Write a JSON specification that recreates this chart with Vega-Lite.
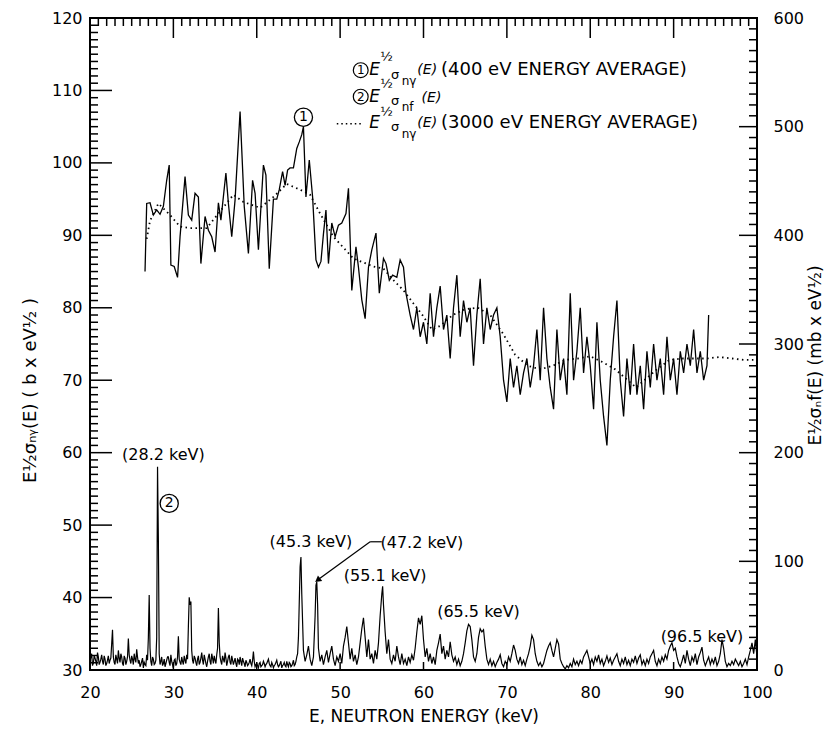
{
"$schema":"https://vega.github.io/schema/vega-lite/v6.json",
"width":667,"height":652,
"autosize":{"type":"none"},
"padding":{"left":90,"top":18,"right":73,"bottom":62},
"background":"white",
"config":{
"font":"DejaVu Sans",
"view":{"stroke":"black","strokeWidth":2},
"axis":{"grid":false,"domain":false,"ticks":false,"labelColor":"black","titleColor":"black","labelFont":"DejaVu Sans","titleFont":"DejaVu Sans","labelFontSize":16,"titleFontSize":17,"titleFontWeight":"normal","labelFlush":false}
},
"datasets":{
"cap":[
{"e":26.6,"v":85.0},{"e":26.8,"v":94.4},{"e":27.2,"v":94.5},{"e":27.6,"v":92.8},{"e":28.0,"v":93.5},{"e":28.4,"v":92.9},{"e":28.8,"v":94.0},{"e":29.2,"v":97.6},{"e":29.5,"v":99.7},{"e":29.7,"v":85.9},{"e":30.1,"v":85.7},{"e":30.5,"v":84.2},{"e":30.8,"v":89.8},{"e":31.4,"v":98.1},{"e":31.8,"v":92.8},{"e":32.2,"v":92.1},{"e":32.6,"v":95.8},{"e":33.0,"v":95.3},{"e":33.3,"v":86.1},{"e":33.8,"v":92.6},{"e":34.2,"v":90.7},{"e":34.6,"v":89.8},{"e":35.0,"v":87.7},{"e":35.4,"v":94.5},{"e":35.7,"v":92.1},{"e":36.3,"v":98.6},{"e":36.6,"v":94.4},{"e":37.0,"v":89.8},{"e":37.4,"v":94.9},{"e":38.0,"v":107.1},{"e":38.5,"v":94.0},{"e":39.0,"v":87.5},{"e":39.5,"v":97.6},{"e":39.8,"v":95.8},{"e":40.2,"v":88.0},{"e":40.8,"v":99.7},{"e":41.1,"v":98.3},{"e":41.5,"v":85.4},{"e":42.0,"v":95.0},{"e":42.4,"v":95.0},{"e":42.7,"v":96.3},{"e":43.1,"v":98.8},{"e":43.4,"v":96.9},{"e":43.7,"v":99.0},{"e":44.0,"v":99.3},{"e":44.4,"v":99.3},{"e":44.8,"v":102.0},{"e":45.1,"v":102.9},{"e":45.4,"v":103.9},{"e":45.6,"v":105.0},{"e":45.9,"v":95.3},{"e":46.3,"v":100.4},{"e":46.7,"v":95.3},{"e":47.1,"v":86.6},{"e":47.4,"v":85.6},{"e":47.7,"v":86.4},{"e":48.0,"v":90.2},{"e":48.3,"v":93.5},{"e":48.6,"v":86.1},{"e":49.0,"v":91.7},{"e":49.4,"v":89.8},{"e":49.8,"v":91.4},{"e":50.2,"v":91.7},{"e":50.7,"v":93.0},{"e":51.0,"v":96.5},{"e":51.4,"v":82.4},{"e":51.9,"v":88.4},{"e":52.2,"v":85.6},{"e":52.6,"v":81.1},{"e":53.0,"v":78.5},{"e":53.4,"v":85.6},{"e":53.8,"v":88.0},{"e":54.3,"v":90.3},{"e":54.7,"v":82.0},{"e":55.2,"v":86.8},{"e":55.5,"v":86.1},{"e":55.9,"v":83.8},{"e":56.3,"v":84.5},{"e":56.8,"v":84.2},{"e":57.2,"v":86.6},{"e":57.6,"v":85.6},{"e":57.9,"v":82.0},{"e":58.4,"v":79.0},
{"e":58.8,"v":77},{"e":59.2,"v":80},{"e":59.6,"v":76},{"e":60.0,"v":78},{"e":60.4,"v":75},{"e":60.8,"v":82},{"e":61.2,"v":76},{"e":61.6,"v":80},{"e":62.0,"v":83},{"e":62.4,"v":77},{"e":62.8,"v":79},{"e":63.2,"v":73},{"e":63.6,"v":80},{"e":64.0,"v":84.5},{"e":64.4,"v":76},{"e":64.8,"v":81},{"e":65.2,"v":78},{"e":65.6,"v":80},{"e":66.0,"v":72},{"e":66.4,"v":79},{"e":66.8,"v":84},{"e":67.2,"v":75},{"e":67.6,"v":80},{"e":68.0,"v":77},{"e":68.4,"v":79},{"e":68.8,"v":80},{"e":69.2,"v":76},{"e":69.6,"v":70},{"e":70.0,"v":67},{"e":70.4,"v":73},{"e":70.8,"v":69},{"e":71.2,"v":72},{"e":71.6,"v":68},{"e":72.0,"v":71},{"e":72.4,"v":73},{"e":72.8,"v":69},{"e":73.2,"v":72},{"e":73.6,"v":77},{"e":74.0,"v":70},{"e":74.4,"v":80},{"e":74.8,"v":73},{"e":75.2,"v":69},{"e":75.6,"v":66},{"e":76.0,"v":77},{"e":76.4,"v":70},{"e":76.8,"v":73},{"e":77.2,"v":68},{"e":77.6,"v":82},{"e":78.0,"v":70},{"e":78.4,"v":74},{"e":78.8,"v":80},{"e":79.2,"v":71},{"e":79.6,"v":76},{"e":80.0,"v":72},{"e":80.4,"v":66},{"e":80.8,"v":78},{"e":81.2,"v":70},{"e":81.6,"v":65},{"e":82.0,"v":61},{"e":82.4,"v":70},{"e":82.8,"v":76},{"e":83.2,"v":81},{"e":83.6,"v":70},{"e":84.0,"v":65},{"e":84.4,"v":73},{"e":84.8,"v":68},{"e":85.2,"v":75},{"e":85.6,"v":68},{"e":86.0,"v":72},{"e":86.4,"v":66},{"e":86.8,"v":74},{"e":87.2,"v":69},{"e":87.6,"v":75},{"e":88.0,"v":70},{"e":88.4,"v":73},{"e":88.8,"v":68},{"e":89.2,"v":76},{"e":89.6,"v":70},{"e":90.0,"v":73},{"e":90.4,"v":68},{"e":90.8,"v":74},{"e":91.2,"v":71},{"e":91.6,"v":75},{"e":92.0,"v":72},{"e":92.4,"v":77},{"e":92.8,"v":71},{"e":93.2,"v":74},{"e":93.6,"v":70},{"e":94.0,"v":72},{"e":94.2,"v":79}
],
"avg":[
{"e":26.8,"v":89.5},{"e":27.2,"v":92.0},{"e":28.2,"v":94.4},{"e":29.6,"v":92.8},{"e":30.8,"v":91.2},{"e":32.0,"v":91.0},{"e":34.0,"v":91.0},{"e":35.6,"v":93.3},{"e":37.2,"v":95.6},{"e":38.4,"v":94.6},{"e":40.4,"v":93.8},{"e":42.0,"v":95.3},{"e":43.6,"v":97.1},{"e":45.2,"v":96.3},{"e":46.4,"v":95.6},{"e":47.6,"v":93.0},{"e":49.2,"v":89.8},{"e":51.6,"v":86.8},{"e":54.0,"v":85.7},{"e":55.2,"v":85.4},{"e":56.4,"v":83.8},{"e":57.6,"v":82.4},{"e":58.8,"v":80.6},{"e":60.0,"v":78.8},{"e":61.0,"v":77.0},{"e":62.0,"v":77.5},{"e":63.5,"v":79.0},{"e":65.0,"v":79.8},{"e":66.5,"v":80.0},{"e":68.0,"v":79.0},{"e":69.5,"v":76.5},{"e":71.0,"v":73.5},{"e":72.5,"v":72.0},{"e":74.0,"v":71.5},{"e":75.5,"v":72.0},{"e":77.0,"v":72.8},{"e":78.5,"v":73.0},{"e":80.0,"v":73.3},{"e":81.5,"v":72.5},{"e":83.0,"v":71.5},{"e":84.5,"v":70.0},{"e":85.5,"v":69.0},{"e":86.5,"v":70.0},{"e":88.0,"v":71.5},{"e":89.5,"v":72.8},{"e":91.0,"v":73.0},{"e":92.5,"v":73.0},{"e":94.0,"v":73.0},{"e":95.5,"v":73.2},{"e":97.0,"v":73.0},{"e":98.5,"v":72.8},{"e":100.0,"v":72.8}
],
"fis":[
{"e":20.0,"f":8},{"e":20.1,"f":12},{"e":20.2,"f":15},{"e":20.3,"f":4},{"e":20.4,"f":6},{"e":20.5,"f":13},{"e":20.6,"f":11},{"e":20.7,"f":8},{"e":20.8,"f":4},{"e":20.9,"f":16},{"e":21.0,"f":12},{"e":21.1,"f":5},{"e":21.2,"f":7},{"e":21.3,"f":10},{"e":21.4,"f":14},{"e":21.5,"f":8},{"e":21.6,"f":5},{"e":21.7,"f":13},{"e":21.8,"f":10},{"e":21.9,"f":4},{"e":22.0,"f":6},{"e":22.1,"f":9},{"e":22.2,"f":13},{"e":22.3,"f":6},{"e":22.4,"f":9},{"e":22.5,"f":11},{"e":22.6,"f":24},{"e":22.7,"f":37},{"e":22.8,"f":12},{"e":22.9,"f":7},{"e":23.0,"f":5},{"e":23.1,"f":14},{"e":23.2,"f":10},{"e":23.3,"f":6},{"e":23.4,"f":18},{"e":23.5,"f":11},{"e":23.6,"f":7},{"e":23.7,"f":15},{"e":23.8,"f":12},{"e":23.9,"f":6},{"e":24.0,"f":4},{"e":24.1,"f":13},{"e":24.2,"f":11},{"e":24.3,"f":5},{"e":24.4,"f":8},{"e":24.5,"f":12},{"e":24.6,"f":29},{"e":24.7,"f":14},{"e":24.8,"f":9},{"e":24.9,"f":6},{"e":25.0,"f":13},{"e":25.1,"f":10},{"e":25.2,"f":5},{"e":25.3,"f":15},{"e":25.4,"f":10},{"e":25.5,"f":7},{"e":25.6,"f":19},{"e":25.7,"f":12},{"e":25.8,"f":6},{"e":25.9,"f":9},{"e":26.0,"f":3},{"e":26.1,"f":5},{"e":26.2,"f":8},{"e":26.3,"f":11},{"e":26.4,"f":2},{"e":26.5,"f":7},{"e":26.6,"f":5},{"e":26.7,"f":4},{"e":26.8,"f":14},{"e":26.9,"f":9},{"e":27.0,"f":30},{"e":27.1,"f":69},{"e":27.2,"f":20},{"e":27.3,"f":8},{"e":27.4,"f":4},{"e":27.5,"f":12},{"e":27.6,"f":10},{"e":27.7,"f":5},{"e":27.8,"f":6},{"e":27.9,"f":9},{"e":28.0,"f":30},{"e":28.1,"f":187},{"e":28.2,"f":120},{"e":28.3,"f":15},{"e":28.4,"f":5},{"e":28.5,"f":8},{"e":28.6,"f":12},{"e":28.7,"f":4},{"e":28.8,"f":6},{"e":28.9,"f":10},{"e":29.0,"f":3},{"e":29.1,"f":6},{"e":29.2,"f":9},{"e":29.3,"f":12},{"e":29.4,"f":12},{"e":29.5,"f":7},{"e":29.6,"f":4},{"e":29.7,"f":14},{"e":29.8,"f":8},{"e":29.9,"f":5},{"e":30.0,"f":2},{"e":30.1,"f":9},{"e":30.2,"f":10},{"e":30.3,"f":4},{"e":30.4,"f":6},{"e":30.5,"f":12},{"e":30.6,"f":31},{"e":30.7,"f":10},{"e":30.8,"f":7},{"e":30.9,"f":5},{"e":31.0,"f":12},{"e":31.1,"f":8},{"e":31.2,"f":5},{"e":31.3,"f":13},{"e":31.4,"f":9},{"e":31.5,"f":6},{"e":31.6,"f":14},{"e":31.7,"f":10},{"e":31.8,"f":40},{"e":31.9,"f":67},{"e":32.0,"f":60},{"e":32.1,"f":63},{"e":32.2,"f":18},{"e":32.3,"f":9},{"e":32.4,"f":6},{"e":32.5,"f":13},{"e":32.6,"f":11},{"e":32.7,"f":7},{"e":32.8,"f":4},{"e":32.9,"f":10},{"e":33.0,"f":13},{"e":33.1,"f":5},{"e":33.2,"f":7},{"e":33.3,"f":11},{"e":33.4,"f":16},{"e":33.5,"f":9},{"e":33.6,"f":5},{"e":33.7,"f":14},{"e":33.8,"f":10},{"e":33.9,"f":6},{"e":34.0,"f":3},{"e":34.1,"f":8},{"e":34.2,"f":12},{"e":34.3,"f":15},{"e":34.4,"f":8},{"e":34.5,"f":5},{"e":34.6,"f":15},{"e":34.7,"f":11},{"e":34.8,"f":6},{"e":34.9,"f":13},{"e":35.0,"f":9},{"e":35.1,"f":6},{"e":35.2,"f":14},{"e":35.3,"f":20},{"e":35.4,"f":57},{"e":35.5,"f":25},{"e":35.6,"f":12},{"e":35.7,"f":8},{"e":35.8,"f":5},{"e":35.9,"f":13},{"e":36.0,"f":10},{"e":36.1,"f":7},{"e":36.2,"f":16},{"e":36.3,"f":11},{"e":36.4,"f":4},{"e":36.5,"f":8},{"e":36.6,"f":12},{"e":36.7,"f":14},{"e":36.8,"f":7},{"e":36.9,"f":5},{"e":37.0,"f":13},{"e":37.1,"f":9},{"e":37.2,"f":5},{"e":37.3,"f":8},{"e":37.4,"f":11},{"e":37.5,"f":6},{"e":37.6,"f":3},{"e":37.7,"f":10},{"e":37.8,"f":9},{"e":37.9,"f":5},{"e":38.0,"f":12},{"e":38.1,"f":8},{"e":38.2,"f":4},{"e":38.3,"f":11},{"e":38.4,"f":8},{"e":38.5,"f":6},{"e":38.6,"f":3},{"e":38.7,"f":9},{"e":38.8,"f":7},{"e":38.9,"f":4},{"e":39.0,"f":5},{"e":39.1,"f":7},{"e":39.2,"f":10},{"e":39.3,"f":6},{"e":39.4,"f":4},{"e":39.5,"f":9},{"e":39.6,"f":17},{"e":39.7,"f":8},{"e":39.8,"f":3},{"e":39.9,"f":5},{"e":40.0,"f":6},{"e":40.1,"f":4},{"e":40.2,"f":2},{"e":40.3,"f":6},{"e":40.4,"f":7},{"e":40.5,"f":3},{"e":40.6,"f":4},{"e":40.7,"f":5},{"e":40.8,"f":8},{"e":40.9,"f":6},{"e":41.0,"f":3},{"e":41.1,"f":5},{"e":41.2,"f":6},{"e":41.3,"f":8},{"e":41.4,"f":10},{"e":41.5,"f":6},{"e":41.6,"f":4},{"e":41.7,"f":3},{"e":41.8,"f":7},{"e":41.9,"f":5},{"e":42.0,"f":2},{"e":42.1,"f":4},{"e":42.2,"f":5},{"e":42.3,"f":7},{"e":42.4,"f":9},{"e":42.5,"f":5},{"e":42.6,"f":3},{"e":42.7,"f":4},{"e":42.8,"f":6},{"e":42.9,"f":8},{"e":43.0,"f":2},{"e":43.1,"f":4},{"e":43.2,"f":5},{"e":43.3,"f":7},{"e":43.4,"f":4},{"e":43.5,"f":3},{"e":43.6,"f":8},{"e":43.7,"f":5},{"e":43.8,"f":3},{"e":43.9,"f":7},{"e":44.0,"f":6},{"e":44.1,"f":3},{"e":44.2,"f":4},{"e":44.3,"f":6},{"e":44.4,"f":9},{"e":44.5,"f":4},{"e":44.6,"f":5},{"e":44.7,"f":8},{"e":44.8,"f":12},{"e":44.9,"f":15},{"e":45.0,"f":30},{"e":45.2,"f":95},{"e":45.3,"f":104},{"e":45.4,"f":70},{"e":45.6,"f":18},{"e":45.8,"f":8},{"e":46.0,"f":14},{"e":46.2,"f":22},{"e":46.4,"f":10},{"e":46.6,"f":4},{"e":46.8,"f":12},{"e":47.0,"f":50},{"e":47.1,"f":78},{"e":47.2,"f":81},{"e":47.3,"f":60},{"e":47.4,"f":20},{"e":47.6,"f":8},{"e":47.8,"f":14},{"e":48.0,"f":5},{"e":48.2,"f":12},{"e":48.4,"f":18},{"e":48.6,"f":7},{"e":48.8,"f":15},{"e":49.0,"f":22},{"e":49.2,"f":10},{"e":49.4,"f":4},{"e":49.6,"f":12},{"e":49.8,"f":8},{"e":50.0,"f":15},{"e":50.2,"f":6},{"e":50.4,"f":22},{"e":50.6,"f":30},{"e":50.8,"f":40},{"e":51.0,"f":25},{"e":51.2,"f":10},{"e":51.4,"f":20},{"e":51.6,"f":8},{"e":51.8,"f":14},{"e":52.0,"f":5},{"e":52.2,"f":12},{"e":52.4,"f":25},{"e":52.6,"f":38},{"e":52.8,"f":48},{"e":53.0,"f":30},{"e":53.2,"f":12},{"e":53.4,"f":28},{"e":53.6,"f":10},{"e":53.8,"f":15},{"e":54.0,"f":6},{"e":54.2,"f":18},{"e":54.4,"f":10},{"e":54.6,"f":25},{"e":54.8,"f":50},{"e":55.0,"f":70},{"e":55.1,"f":77},{"e":55.2,"f":60},{"e":55.4,"f":35},{"e":55.6,"f":15},{"e":55.8,"f":28},{"e":56.0,"f":10},{"e":56.2,"f":6},{"e":56.4,"f":14},{"e":56.6,"f":8},{"e":56.8,"f":22},{"e":57.0,"f":12},{"e":57.2,"f":5},{"e":57.4,"f":15},{"e":57.6,"f":6},{"e":57.8,"f":10},{"e":58.0,"f":4},{"e":58.2,"f":12},{"e":58.4,"f":7},{"e":58.6,"f":14},{"e":58.8,"f":9},{"e":59.0,"f":20},{"e":59.2,"f":35},{"e":59.4,"f":48},{"e":59.6,"f":42},{"e":59.8,"f":50},{"e":60.0,"f":28},{"e":60.2,"f":12},{"e":60.4,"f":20},{"e":60.6,"f":8},{"e":60.8,"f":15},{"e":61.0,"f":6},{"e":61.2,"f":12},{"e":61.4,"f":5},{"e":61.6,"f":18},{"e":61.8,"f":25},{"e":62.0,"f":33},{"e":62.2,"f":15},{"e":62.4,"f":22},{"e":62.6,"f":10},{"e":62.8,"f":18},{"e":63.0,"f":12},{"e":63.2,"f":26},{"e":63.4,"f":14},{"e":63.6,"f":8},{"e":63.8,"f":12},{"e":64.0,"f":5},{"e":64.2,"f":10},{"e":64.4,"f":4},{"e":64.6,"f":8},{"e":64.8,"f":15},{"e":65.0,"f":25},{"e":65.2,"f":36},{"e":65.4,"f":42},{"e":65.6,"f":40},{"e":65.8,"f":28},{"e":66.0,"f":12},{"e":66.2,"f":8},{"e":66.4,"f":15},{"e":66.6,"f":30},{"e":66.8,"f":38},{"e":67.0,"f":35},{"e":67.2,"f":37},{"e":67.4,"f":22},{"e":67.6,"f":10},{"e":67.8,"f":5},{"e":68.0,"f":10},{"e":68.2,"f":4},{"e":68.4,"f":8},{"e":68.6,"f":3},{"e":68.8,"f":7},{"e":69.0,"f":10},{"e":69.2,"f":14},{"e":69.4,"f":6},{"e":69.6,"f":3},{"e":69.8,"f":8},{"e":70.0,"f":5},{"e":70.2,"f":12},{"e":70.4,"f":8},{"e":70.6,"f":15},{"e":70.8,"f":23},{"e":71.0,"f":18},{"e":71.2,"f":10},{"e":71.4,"f":6},{"e":71.6,"f":12},{"e":71.8,"f":5},{"e":72.0,"f":9},{"e":72.2,"f":4},{"e":72.4,"f":10},{"e":72.6,"f":15},{"e":72.8,"f":22},{"e":73.0,"f":32},{"e":73.2,"f":28},{"e":73.4,"f":15},{"e":73.6,"f":8},{"e":73.8,"f":4},{"e":74.0,"f":7},{"e":74.2,"f":3},{"e":74.4,"f":6},{"e":74.6,"f":12},{"e":74.8,"f":18},{"e":75.0,"f":22},{"e":75.2,"f":25},{"e":75.4,"f":18},{"e":75.6,"f":12},{"e":75.8,"f":20},{"e":76.0,"f":28},{"e":76.2,"f":24},{"e":76.4,"f":10},{"e":76.6,"f":6},{"e":76.8,"f":3},{"e":77.0,"f":1},{"e":77.2,"f":4},{"e":77.4,"f":2},{"e":77.6,"f":6},{"e":77.8,"f":3},{"e":78.0,"f":10},{"e":78.2,"f":5},{"e":78.4,"f":8},{"e":78.6,"f":4},{"e":78.8,"f":9},{"e":79.0,"f":6},{"e":79.2,"f":12},{"e":79.4,"f":15},{"e":79.6,"f":18},{"e":79.8,"f":12},{"e":80.0,"f":6},{"e":80.2,"f":10},{"e":80.4,"f":5},{"e":80.6,"f":12},{"e":80.8,"f":8},{"e":81.0,"f":14},{"e":81.2,"f":6},{"e":81.4,"f":10},{"e":81.6,"f":4},{"e":81.8,"f":8},{"e":82.0,"f":13},{"e":82.2,"f":7},{"e":82.4,"f":11},{"e":82.6,"f":5},{"e":82.8,"f":9},{"e":83.0,"f":12},{"e":83.2,"f":15},{"e":83.4,"f":8},{"e":83.6,"f":4},{"e":83.8,"f":10},{"e":84.0,"f":6},{"e":84.2,"f":12},{"e":84.4,"f":5},{"e":84.6,"f":9},{"e":84.8,"f":4},{"e":85.0,"f":10},{"e":85.2,"f":7},{"e":85.4,"f":13},{"e":85.6,"f":6},{"e":85.8,"f":11},{"e":86.0,"f":14},{"e":86.2,"f":5},{"e":86.4,"f":9},{"e":86.6,"f":4},{"e":86.8,"f":10},{"e":87.0,"f":6},{"e":87.2,"f":12},{"e":87.4,"f":15},{"e":87.6,"f":18},{"e":87.8,"f":8},{"e":88.0,"f":4},{"e":88.2,"f":10},{"e":88.4,"f":6},{"e":88.6,"f":12},{"e":88.8,"f":8},{"e":89.0,"f":14},{"e":89.2,"f":10},{"e":89.4,"f":18},{"e":89.6,"f":22},{"e":89.8,"f":25},{"e":90.0,"f":18},{"e":90.2,"f":20},{"e":90.4,"f":12},{"e":90.6,"f":6},{"e":90.8,"f":3},{"e":91.0,"f":8},{"e":91.2,"f":14},{"e":91.4,"f":6},{"e":91.6,"f":18},{"e":91.8,"f":10},{"e":92.0,"f":4},{"e":92.2,"f":12},{"e":92.4,"f":8},{"e":92.6,"f":15},{"e":92.8,"f":5},{"e":93.0,"f":12},{"e":93.2,"f":16},{"e":93.4,"f":21},{"e":93.6,"f":9},{"e":93.8,"f":4},{"e":94.0,"f":8},{"e":94.2,"f":12},{"e":94.4,"f":5},{"e":94.6,"f":10},{"e":94.8,"f":6},{"e":95.0,"f":12},{"e":95.2,"f":4},{"e":95.4,"f":8},{"e":95.6,"f":15},{"e":95.8,"f":28},{"e":96.0,"f":20},{"e":96.2,"f":8},{"e":96.4,"f":3},{"e":96.6,"f":6},{"e":96.8,"f":4},{"e":97.0,"f":8},{"e":97.2,"f":5},{"e":97.4,"f":10},{"e":97.6,"f":7},{"e":97.8,"f":4},{"e":98.0,"f":8},{"e":98.2,"f":3},{"e":98.4,"f":6},{"e":98.6,"f":10},{"e":98.8,"f":5},{"e":99.0,"f":12},{"e":99.2,"f":18},{"e":99.4,"f":25},{"e":99.6,"f":15},{"e":99.8,"f":28},{"e":100.0,"f":12}
],
"tkx":[
{"e":20,"c":118.62,"m":1},{"e":21,"c":119.45,"m":0},{"e":22,"c":119.45,"m":0},{"e":23,"c":119.45,"m":0},{"e":24,"c":119.45,"m":0},{"e":25,"c":119.45,"m":0},{"e":26,"c":119.45,"m":0},{"e":27,"c":119.45,"m":0},{"e":28,"c":119.45,"m":0},{"e":29,"c":119.45,"m":0},
{"e":30,"c":118.62,"m":1},{"e":31,"c":119.45,"m":0},{"e":32,"c":119.45,"m":0},{"e":33,"c":119.45,"m":0},{"e":34,"c":119.45,"m":0},{"e":35,"c":119.45,"m":0},{"e":36,"c":119.45,"m":0},{"e":37,"c":119.45,"m":0},{"e":38,"c":119.45,"m":0},{"e":39,"c":119.45,"m":0},
{"e":40,"c":118.62,"m":1},{"e":41,"c":119.45,"m":0},{"e":42,"c":119.45,"m":0},{"e":43,"c":119.45,"m":0},{"e":44,"c":119.45,"m":0},{"e":45,"c":119.45,"m":0},{"e":46,"c":119.45,"m":0},{"e":47,"c":119.45,"m":0},{"e":48,"c":119.45,"m":0},{"e":49,"c":119.45,"m":0},
{"e":50,"c":118.62,"m":1},{"e":51,"c":119.45,"m":0},{"e":52,"c":119.45,"m":0},{"e":53,"c":119.45,"m":0},{"e":54,"c":119.45,"m":0},{"e":55,"c":119.45,"m":0},{"e":56,"c":119.45,"m":0},{"e":57,"c":119.45,"m":0},{"e":58,"c":119.45,"m":0},{"e":59,"c":119.45,"m":0},
{"e":60,"c":118.62,"m":1},{"e":61,"c":119.45,"m":0},{"e":62,"c":119.45,"m":0},{"e":63,"c":119.45,"m":0},{"e":64,"c":119.45,"m":0},{"e":65,"c":119.45,"m":0},{"e":66,"c":119.45,"m":0},{"e":67,"c":119.45,"m":0},{"e":68,"c":119.45,"m":0},{"e":69,"c":119.45,"m":0},
{"e":70,"c":118.62,"m":1},{"e":71,"c":119.45,"m":0},{"e":72,"c":119.45,"m":0},{"e":73,"c":119.45,"m":0},{"e":74,"c":119.45,"m":0},{"e":75,"c":119.45,"m":0},{"e":76,"c":119.45,"m":0},{"e":77,"c":119.45,"m":0},{"e":78,"c":119.45,"m":0},{"e":79,"c":119.45,"m":0},
{"e":80,"c":118.62,"m":1},{"e":81,"c":119.45,"m":0},{"e":82,"c":119.45,"m":0},{"e":83,"c":119.45,"m":0},{"e":84,"c":119.45,"m":0},{"e":85,"c":119.45,"m":0},{"e":86,"c":119.45,"m":0},{"e":87,"c":119.45,"m":0},{"e":88,"c":119.45,"m":0},{"e":89,"c":119.45,"m":0},
{"e":90,"c":118.62,"m":1},{"e":91,"c":119.45,"m":0},{"e":92,"c":119.45,"m":0},{"e":93,"c":119.45,"m":0},{"e":94,"c":119.45,"m":0},{"e":95,"c":119.45,"m":0},{"e":96,"c":119.45,"m":0},{"e":97,"c":119.45,"m":0},{"e":98,"c":119.45,"m":0},{"e":99,"c":119.45,"m":0},
{"e":100,"c":118.62,"m":1},
{"e":30,"c":30.55,"m":0},{"e":40,"c":30.55,"m":0},{"e":50,"c":30.55,"m":0},{"e":60,"c":30.55,"m":0},{"e":70,"c":30.55,"m":0},{"e":80,"c":30.55,"m":0},{"e":90,"c":30.55,"m":0}
],
"tkl":[
{"v":30,"c":21.32,"m":1},{"v":31,"c":20.48,"m":0},{"v":32,"c":20.48,"m":0},{"v":33,"c":20.48,"m":0},{"v":34,"c":20.48,"m":0},{"v":35,"c":20.48,"m":0},{"v":36,"c":20.48,"m":0},{"v":37,"c":20.48,"m":0},{"v":38,"c":20.48,"m":0},{"v":39,"c":20.48,"m":0},
{"v":40,"c":21.32,"m":1},{"v":41,"c":20.48,"m":0},{"v":42,"c":20.48,"m":0},{"v":43,"c":20.48,"m":0},{"v":44,"c":20.48,"m":0},{"v":45,"c":20.48,"m":0},{"v":46,"c":20.48,"m":0},{"v":47,"c":20.48,"m":0},{"v":48,"c":20.48,"m":0},{"v":49,"c":20.48,"m":0},
{"v":50,"c":21.32,"m":1},{"v":51,"c":20.48,"m":0},{"v":52,"c":20.48,"m":0},{"v":53,"c":20.48,"m":0},{"v":54,"c":20.48,"m":0},{"v":55,"c":20.48,"m":0},{"v":56,"c":20.48,"m":0},{"v":57,"c":20.48,"m":0},{"v":58,"c":20.48,"m":0},{"v":59,"c":20.48,"m":0},
{"v":60,"c":21.32,"m":1},{"v":61,"c":20.48,"m":0},{"v":62,"c":20.48,"m":0},{"v":63,"c":20.48,"m":0},{"v":64,"c":20.48,"m":0},{"v":65,"c":20.48,"m":0},{"v":66,"c":20.48,"m":0},{"v":67,"c":20.48,"m":0},{"v":68,"c":20.48,"m":0},{"v":69,"c":20.48,"m":0},
{"v":70,"c":21.32,"m":1},{"v":71,"c":20.48,"m":0},{"v":72,"c":20.48,"m":0},{"v":73,"c":20.48,"m":0},{"v":74,"c":20.48,"m":0},{"v":75,"c":20.48,"m":0},{"v":76,"c":20.48,"m":0},{"v":77,"c":20.48,"m":0},{"v":78,"c":20.48,"m":0},{"v":79,"c":20.48,"m":0},
{"v":80,"c":21.32,"m":1},{"v":81,"c":20.48,"m":0},{"v":82,"c":20.48,"m":0},{"v":83,"c":20.48,"m":0},{"v":84,"c":20.48,"m":0},{"v":85,"c":20.48,"m":0},{"v":86,"c":20.48,"m":0},{"v":87,"c":20.48,"m":0},{"v":88,"c":20.48,"m":0},{"v":89,"c":20.48,"m":0},
{"v":90,"c":21.32,"m":1},{"v":91,"c":20.48,"m":0},{"v":92,"c":20.48,"m":0},{"v":93,"c":20.48,"m":0},{"v":94,"c":20.48,"m":0},{"v":95,"c":20.48,"m":0},{"v":96,"c":20.48,"m":0},{"v":97,"c":20.48,"m":0},{"v":98,"c":20.48,"m":0},{"v":99,"c":20.48,"m":0},
{"v":100,"c":21.32,"m":1},{"v":101,"c":20.48,"m":0},{"v":102,"c":20.48,"m":0},{"v":103,"c":20.48,"m":0},{"v":104,"c":20.48,"m":0},{"v":105,"c":20.48,"m":0},{"v":106,"c":20.48,"m":0},{"v":107,"c":20.48,"m":0},{"v":108,"c":20.48,"m":0},{"v":109,"c":20.48,"m":0},
{"v":110,"c":21.32,"m":1},{"v":111,"c":20.48,"m":0},{"v":112,"c":20.48,"m":0},{"v":113,"c":20.48,"m":0},{"v":114,"c":20.48,"m":0},{"v":115,"c":20.48,"m":0},{"v":116,"c":20.48,"m":0},{"v":117,"c":20.48,"m":0},{"v":118,"c":20.48,"m":0},{"v":119,"c":20.48,"m":0},
{"v":120,"c":21.32,"m":1}
],
"tkr":[
{"f":0,"c":98.92,"m":1},{"f":10,"c":99.52,"m":0},{"f":20,"c":99.52,"m":0},{"f":30,"c":99.52,"m":0},{"f":40,"c":99.52,"m":0},{"f":50,"c":99.52,"m":0},{"f":60,"c":99.52,"m":0},{"f":70,"c":99.52,"m":0},{"f":80,"c":99.52,"m":0},{"f":90,"c":99.52,"m":0},
{"f":100,"c":98.92,"m":1},{"f":110,"c":99.52,"m":0},{"f":120,"c":99.52,"m":0},{"f":130,"c":99.52,"m":0},{"f":140,"c":99.52,"m":0},{"f":150,"c":99.52,"m":0},{"f":160,"c":99.52,"m":0},{"f":170,"c":99.52,"m":0},{"f":180,"c":99.52,"m":0},{"f":190,"c":99.52,"m":0},
{"f":200,"c":98.92,"m":1},{"f":210,"c":99.52,"m":0},{"f":220,"c":99.52,"m":0},{"f":230,"c":99.52,"m":0},{"f":240,"c":99.52,"m":0},{"f":250,"c":99.52,"m":0},{"f":260,"c":99.52,"m":0},{"f":270,"c":99.52,"m":0},{"f":280,"c":99.52,"m":0},{"f":290,"c":99.52,"m":0},
{"f":300,"c":98.92,"m":1},{"f":310,"c":99.52,"m":0},{"f":320,"c":99.52,"m":0},{"f":330,"c":99.52,"m":0},{"f":340,"c":99.52,"m":0},{"f":350,"c":99.52,"m":0},{"f":360,"c":99.52,"m":0},{"f":370,"c":99.52,"m":0},{"f":380,"c":99.52,"m":0},{"f":390,"c":99.52,"m":0},
{"f":400,"c":98.92,"m":1},{"f":410,"c":99.52,"m":0},{"f":420,"c":99.52,"m":0},{"f":430,"c":99.52,"m":0},{"f":440,"c":99.52,"m":0},{"f":450,"c":99.52,"m":0},{"f":460,"c":99.52,"m":0},{"f":470,"c":99.52,"m":0},{"f":480,"c":99.52,"m":0},{"f":490,"c":99.52,"m":0},
{"f":500,"c":98.92,"m":1},{"f":510,"c":99.52,"m":0},{"f":520,"c":99.52,"m":0},{"f":530,"c":99.52,"m":0},{"f":540,"c":99.52,"m":0},{"f":550,"c":99.52,"m":0},{"f":560,"c":99.52,"m":0},{"f":570,"c":99.52,"m":0},{"f":580,"c":99.52,"m":0},{"f":590,"c":99.52,"m":0},
{"f":600,"c":98.92,"m":1}
],
"ann":[
{"e":28.8,"v":59.7,"t":"(28.2 keV)"},{"e":46.5,"v":47.7,"t":"(45.3 keV)"},{"e":59.8,"v":47.5,"t":"(47.2 keV)"},{"e":55.4,"v":43.0,"t":"(55.1 keV)"},{"e":66.6,"v":38.0,"t":"(65.5 keV)"},{"e":93.4,"v":34.6,"t":"(96.5 keV)"}
],
"circ":[
{"e":45.6,"v":106.3,"t":"1"},{"e":29.5,"v":53.0,"t":"2"}
],
"lcirc":[
{"e":52.47,"v":112.8,"t":"1"},{"e":52.47,"v":109.14,"t":"2"}
],
"arrow":[{"e":53.6,"v":47.7,"e2":47.5,"v2":42.6},{"e":55.0,"v":47.7,"e2":53.6,"v2":47.7}],
"head":[{"e":47.4,"v":42.5}],
"ldot":[{"e":49.6,"e2":52.6,"v":105.4}],
"leg":[
{"e":53.5,"v":112.8,"t":"E","r":"it"},{"e":54.8,"v":114.6,"t":"½","r":"sm"},{"e":56.1,"v":112.2,"t":"σ","r":"sm"},{"e":57.39,"v":111.3,"t":"nγ","r":"sub"},{"e":59.26,"v":112.8,"t":"(E)","r":"it2"},{"e":62.1,"v":112.8,"t":"(400 eV ENERGY AVERAGE)","r":"txt"},
{"e":53.5,"v":109.14,"t":"E","r":"it"},{"e":54.8,"v":110.9,"t":"½","r":"sm"},{"e":56.1,"v":108.5,"t":"σ","r":"sm"},{"e":57.39,"v":107.7,"t":"nf","r":"sub"},{"e":59.77,"v":109.0,"t":"(E)","r":"it2"},
{"e":53.5,"v":105.46,"t":"E","r":"it"},{"e":54.8,"v":107.07,"t":"½","r":"sm"},{"e":56.1,"v":104.9,"t":"σ","r":"sm"},{"e":57.39,"v":104.0,"t":"nγ","r":"sub"},{"e":59.26,"v":105.46,"t":"(E)","r":"it2"},{"e":62.1,"v":105.46,"t":"(3000 eV ENERGY AVERAGE)","r":"txt"}
]
},
"layer":[
{"data":{"name":"cap"},"mark":{"type":"line","color":"black","strokeWidth":1.3},
"encoding":{
"x":{"field":"e","type":"quantitative","scale":{"domain":[20,100],"nice":false},"axis":{"orient":"bottom","values":[20,30,40,50,60,70,80,90,100],"labelPadding":14,"title":"E, NEUTRON ENERGY (keV)","titlePadding":8}},
"y":{"field":"v","type":"quantitative","scale":{"domain":[30,120],"nice":false,"zero":false},"axis":{"orient":"left","values":[30,40,50,60,70,80,90,100,110,120],"labelPadding":8,"title":"E½σₙᵧ(E)  ( b x eV½ )","titleFontSize":18,"titleAngle":270,"titleAlign":"center","titleBaseline":"middle","titleX":-60,"titleY":372}}}},
{"data":{"name":"avg"},"mark":{"type":"line","color":"black","strokeWidth":1.8,"strokeDash":[1.5,3.5]},
"encoding":{
"x":{"field":"e","type":"quantitative","scale":{"domain":[20,100],"nice":false},"axis":null},
"y":{"field":"v","type":"quantitative","scale":{"domain":[30,120],"nice":false,"zero":false},"axis":null}}},
{"data":{"name":"fis"},"mark":{"type":"line","color":"black","strokeWidth":1.2},
"encoding":{
"x":{"field":"e","type":"quantitative","scale":{"domain":[20,100],"nice":false},"axis":null},
"y":{"field":"f","type":"quantitative","scale":{"domain":[0,600],"nice":false},"axis":{"orient":"right","values":[0,100,200,300,400,500,600],"labelPadding":16,"title":"E½σₙf(E)  (mb x eV½)","titleAngle":270,"titleAlign":"center","titleBaseline":"middle","titleX":58,"titleY":337}}}},
{"data":{"name":"tkx"},"transform":[{"filter":"datum.m === 1"}],"mark":{"type":"tick","orient":"vertical","size":20,"thickness":1.5,"color":"black","opacity":1},
"encoding":{
"x":{"field":"e","type":"quantitative","scale":{"domain":[20,100],"nice":false},"axis":null},
"y":{"field":"c","type":"quantitative","scale":{"domain":[30,120],"nice":false,"zero":false},"axis":null}}},
{"data":{"name":"tkx"},"transform":[{"filter":"datum.m === 0"}],"mark":{"type":"tick","orient":"vertical","size":8,"thickness":1.5,"color":"black","opacity":1},
"encoding":{
"x":{"field":"e","type":"quantitative","scale":{"domain":[20,100],"nice":false},"axis":null},
"y":{"field":"c","type":"quantitative","scale":{"domain":[30,120],"nice":false,"zero":false},"axis":null}}},
{"data":{"name":"tkl"},"transform":[{"filter":"datum.m === 1"}],"mark":{"type":"tick","orient":"horizontal","size":22,"thickness":1.5,"color":"black","opacity":1},
"encoding":{
"x":{"field":"c","type":"quantitative","scale":{"domain":[20,100],"nice":false},"axis":null},
"y":{"field":"v","type":"quantitative","scale":{"domain":[30,120],"nice":false,"zero":false},"axis":null}}},
{"data":{"name":"tkl"},"transform":[{"filter":"datum.m === 0"}],"mark":{"type":"tick","orient":"horizontal","size":8,"thickness":1.5,"color":"black","opacity":1},
"encoding":{
"x":{"field":"c","type":"quantitative","scale":{"domain":[20,100],"nice":false},"axis":null},
"y":{"field":"v","type":"quantitative","scale":{"domain":[30,120],"nice":false,"zero":false},"axis":null}}},
{"data":{"name":"tkr"},"transform":[{"filter":"datum.m === 1"}],"mark":{"type":"tick","orient":"horizontal","size":18,"thickness":1.5,"color":"black","opacity":1},
"encoding":{
"x":{"field":"c","type":"quantitative","scale":{"domain":[20,100],"nice":false},"axis":null},
"y":{"field":"f","type":"quantitative","scale":{"domain":[0,600],"nice":false},"axis":null}}},
{"data":{"name":"tkr"},"transform":[{"filter":"datum.m === 0"}],"mark":{"type":"tick","orient":"horizontal","size":8,"thickness":1.5,"color":"black","opacity":1},
"encoding":{
"x":{"field":"c","type":"quantitative","scale":{"domain":[20,100],"nice":false},"axis":null},
"y":{"field":"f","type":"quantitative","scale":{"domain":[0,600],"nice":false},"axis":null}}},
{"data":{"name":"ann"},"mark":{"type":"text","fontSize":16,"align":"center","baseline":"middle","color":"black"},
"encoding":{
"x":{"field":"e","type":"quantitative","scale":{"domain":[20,100],"nice":false},"axis":null},
"y":{"field":"v","type":"quantitative","scale":{"domain":[30,120],"nice":false,"zero":false},"axis":null},
"text":{"field":"t"}}},
{"data":{"name":"circ"},"mark":{"type":"point","shape":"circle","filled":false,"size":330,"color":"black","strokeWidth":1.3,"opacity":1},
"encoding":{
"x":{"field":"e","type":"quantitative","scale":{"domain":[20,100],"nice":false},"axis":null},
"y":{"field":"v","type":"quantitative","scale":{"domain":[30,120],"nice":false,"zero":false},"axis":null}}},
{"data":{"name":"circ"},"mark":{"type":"text","fontSize":14,"align":"center","baseline":"middle","color":"black"},
"encoding":{
"x":{"field":"e","type":"quantitative","scale":{"domain":[20,100],"nice":false},"axis":null},
"y":{"field":"v","type":"quantitative","scale":{"domain":[30,120],"nice":false,"zero":false},"axis":null},
"text":{"field":"t"}}},
{"data":{"name":"lcirc"},"mark":{"type":"point","shape":"circle","filled":false,"size":220,"color":"black","strokeWidth":1.2,"opacity":1},
"encoding":{
"x":{"field":"e","type":"quantitative","scale":{"domain":[20,100],"nice":false},"axis":null},
"y":{"field":"v","type":"quantitative","scale":{"domain":[30,120],"nice":false,"zero":false},"axis":null}}},
{"data":{"name":"lcirc"},"mark":{"type":"text","fontSize":12,"align":"center","baseline":"middle","color":"black"},
"encoding":{
"x":{"field":"e","type":"quantitative","scale":{"domain":[20,100],"nice":false},"axis":null},
"y":{"field":"v","type":"quantitative","scale":{"domain":[30,120],"nice":false,"zero":false},"axis":null},
"text":{"field":"t"}}},
{"data":{"name":"arrow"},"mark":{"type":"rule","color":"black","strokeWidth":1.2},
"encoding":{
"x":{"field":"e","type":"quantitative","scale":{"domain":[20,100],"nice":false},"axis":null},
"x2":{"field":"e2"},
"y":{"field":"v","type":"quantitative","scale":{"domain":[30,120],"nice":false,"zero":false},"axis":null},
"y2":{"field":"v2"}}},
{"data":{"name":"head"},"mark":{"type":"point","shape":"triangle","filled":true,"size":50,"color":"black","angle":233,"opacity":1},
"encoding":{
"x":{"field":"e","type":"quantitative","scale":{"domain":[20,100],"nice":false},"axis":null},
"y":{"field":"v","type":"quantitative","scale":{"domain":[30,120],"nice":false,"zero":false},"axis":null}}},
{"data":{"name":"ldot"},"mark":{"type":"rule","color":"black","strokeWidth":1.6,"strokeDash":[1.5,3]},
"encoding":{
"x":{"field":"e","type":"quantitative","scale":{"domain":[20,100],"nice":false},"axis":null},
"x2":{"field":"e2"},
"y":{"field":"v","type":"quantitative","scale":{"domain":[30,120],"nice":false,"zero":false},"axis":null}}},
{"data":{"name":"leg"},"transform":[{"filter":"datum.r === 'it'"}],"mark":{"type":"text","fontSize":17,"fontStyle":"italic","align":"left","baseline":"middle","color":"black"},
"encoding":{
"x":{"field":"e","type":"quantitative","scale":{"domain":[20,100],"nice":false},"axis":null},
"y":{"field":"v","type":"quantitative","scale":{"domain":[30,120],"nice":false,"zero":false},"axis":null},
"text":{"field":"t"}}},
{"data":{"name":"leg"},"transform":[{"filter":"datum.r === 'it2'"}],"mark":{"type":"text","fontSize":14,"fontStyle":"italic","align":"left","baseline":"middle","color":"black"},
"encoding":{
"x":{"field":"e","type":"quantitative","scale":{"domain":[20,100],"nice":false},"axis":null},
"y":{"field":"v","type":"quantitative","scale":{"domain":[30,120],"nice":false,"zero":false},"axis":null},
"text":{"field":"t"}}},
{"data":{"name":"leg"},"transform":[{"filter":"datum.r === 'txt'"}],"mark":{"type":"text","fontSize":18,"align":"left","baseline":"middle","color":"black"},
"encoding":{
"x":{"field":"e","type":"quantitative","scale":{"domain":[20,100],"nice":false},"axis":null},
"y":{"field":"v","type":"quantitative","scale":{"domain":[30,120],"nice":false,"zero":false},"axis":null},
"text":{"field":"t"}}},
{"data":{"name":"leg"},"transform":[{"filter":"datum.r === 'sm'"}],"mark":{"type":"text","fontSize":13,"align":"left","baseline":"middle","color":"black"},
"encoding":{
"x":{"field":"e","type":"quantitative","scale":{"domain":[20,100],"nice":false},"axis":null},
"y":{"field":"v","type":"quantitative","scale":{"domain":[30,120],"nice":false,"zero":false},"axis":null},
"text":{"field":"t"}}},
{"data":{"name":"leg"},"transform":[{"filter":"datum.r === 'sub'"}],"mark":{"type":"text","fontSize":12,"align":"left","baseline":"middle","color":"black"},
"encoding":{
"x":{"field":"e","type":"quantitative","scale":{"domain":[20,100],"nice":false},"axis":null},
"y":{"field":"v","type":"quantitative","scale":{"domain":[30,120],"nice":false,"zero":false},"axis":null},
"text":{"field":"t"}}}
],
"resolve":{"scale":{"x":"independent","y":"independent"},"axis":{"x":"independent","y":"independent"}}
}
